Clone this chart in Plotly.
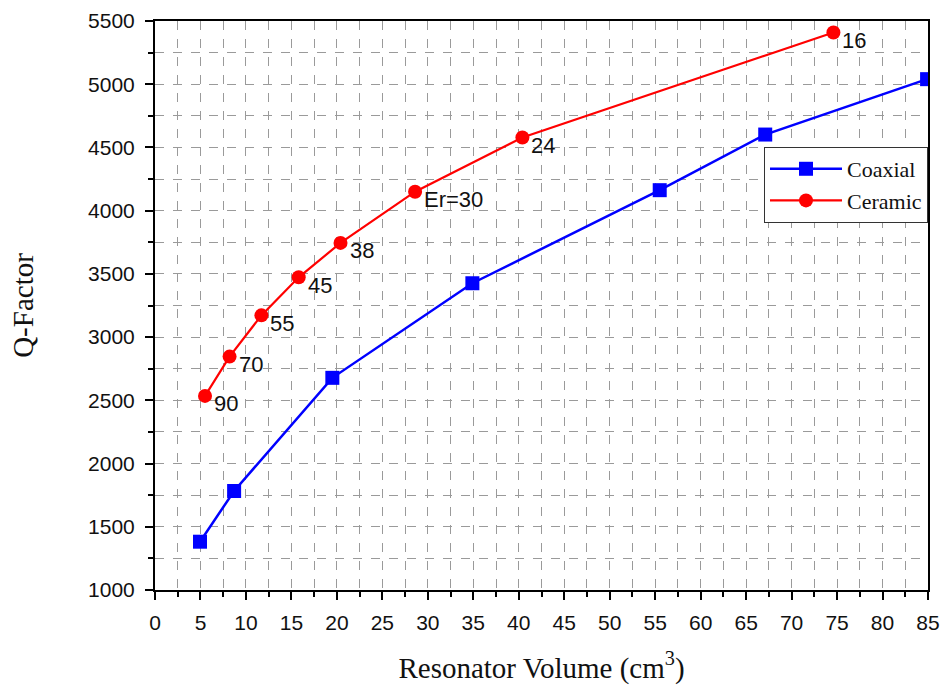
import plotly.graph_objects as go

coax_x = [4.95, 8.7, 19.5, 34.9, 55.5, 67.1, 84.9]
coax_q = [1382, 1783, 2678, 3426, 4162, 4602, 5040]

cer_x = [5.5, 8.2, 11.7, 15.8, 20.4, 28.6, 40.4, 74.6]
cer_q = [2535, 2846, 3172, 3473, 3745, 4150, 4579, 5409]
cer_labels = ["90", "70", "55", "45", "38", "Er=30", "24", "16"]

x_ticks = list(range(0, 90, 5))
y_ticks = list(range(1000, 6000, 500))

SANS = "Arial, Liberation Sans, sans-serif"
SERIF = "Times New Roman, Liberation Serif, serif"

fig = go.Figure()
fig.add_trace(go.Scatter(
    x=coax_x, y=coax_q, mode="lines+markers", name="Coaxial",
    line=dict(color="#0000ff", width=2.5),
    marker=dict(symbol="square", size=14, color="#0000ff"),
))
fig.add_trace(go.Scatter(
    x=cer_x, y=cer_q, mode="lines+markers", name="Ceramic",
    line=dict(color="#ff0000", width=2.2),
    marker=dict(symbol="circle", size=14, color="#ff0000"),
))

for xv, yv, t in zip(cer_x, cer_q, cer_labels):
    fig.add_annotation(
        x=xv, y=yv, text=t, showarrow=False, xref="x", yref="y",
        xanchor="left", yanchor="middle", xshift=7, yshift=-8,
        font=dict(family=SANS, size=22, color="#111111"),
    )

grid_color = "#9a9a9a"
fig.update_xaxes(
    range=[0, 85], tickvals=x_ticks, ticktext=[str(v) for v in x_ticks],
    showline=True, linecolor="black", linewidth=2, mirror=True,
    ticks="outside", ticklen=8, tickwidth=2, tickcolor="black",
    showgrid=True, gridcolor=grid_color, griddash="dash", gridwidth=1,
    minor=dict(dtick=2.5, tick0=0, ticks="outside", ticklen=5, tickwidth=1.5,
               tickcolor="black", showgrid=True, gridcolor=grid_color,
               griddash="dash", gridwidth=1),
    tickfont=dict(family=SANS, size=21, color="#111111"),
    ticklabelstandoff=5,
    title=dict(text="Resonator Volume (cm<sup>3</sup>)",
               font=dict(family=SERIF, size=29, color="#111111"), standoff=24),
    zeroline=False, automargin=False,
)
fig.update_yaxes(
    range=[1000, 5500], tickvals=y_ticks, ticktext=[str(v) for v in y_ticks],
    showline=True, linecolor="black", linewidth=2, mirror=True,
    ticks="outside", ticklen=8, tickwidth=2, tickcolor="black",
    showgrid=True, gridcolor=grid_color, griddash="dash", gridwidth=1,
    minor=dict(dtick=250, tick0=1000, ticks="outside", ticklen=5, tickwidth=1.5,
               tickcolor="black", showgrid=True, gridcolor=grid_color,
               griddash="dash", gridwidth=1),
    tickfont=dict(family=SANS, size=21, color="#111111"),
    ticklabelstandoff=6,
    title=dict(text="Q-Factor", font=dict(family=SERIF, size=29, color="#111111"),
               standoff=46),
    zeroline=False, automargin=False,
)

fig.update_layout(
    width=948, height=689,
    margin=dict(l=155, r=20, t=21, b=99, autoexpand=False),
    paper_bgcolor="white", plot_bgcolor="white",
    showlegend=True,
    legend=dict(
        x=1.0, y=0.7786, xanchor="right", yanchor="top",
        bgcolor="white", bordercolor="#333333", borderwidth=1,
        font=dict(family=SERIF, size=22, color="#111111"),
        itemwidth=72, tracegroupgap=0,
    ),
)

fig.write_html("out.html")
